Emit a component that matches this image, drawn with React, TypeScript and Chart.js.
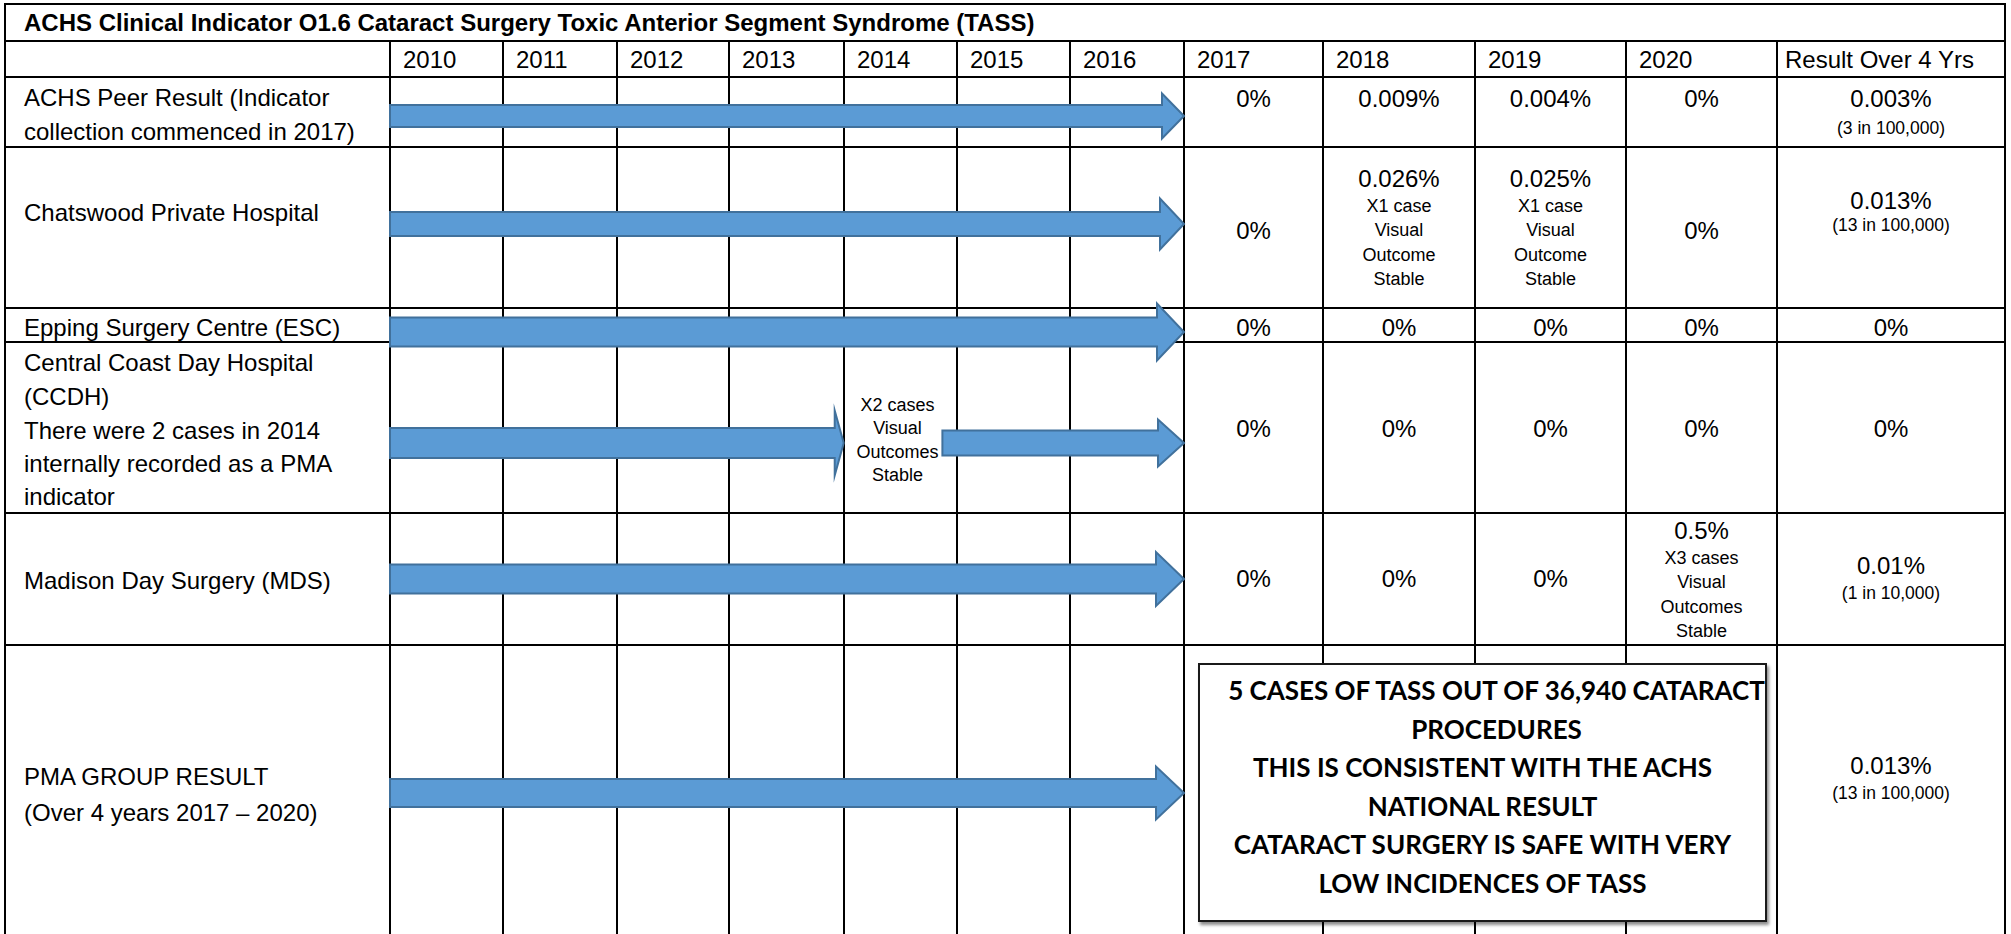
import React, { useEffect, useRef } from 'react';
import { Chart, registerables } from 'chart.js';

Chart.register(...registerables);

// ---------------- DATA ----------------
const title = 'ACHS Clinical Indicator O1.6 Cataract Surgery Toxic Anterior Segment Syndrome (TASS)';
const years = ['2010', '2011', '2012', '2013', '2014', '2015', '2016', '2017', '2018', '2019', '2020'];
const resultHeader = 'Result Over 4 Yrs';

const facilities: string[][] = [
  ['ACHS Peer Result (Indicator', 'collection commenced in 2017)'],
  ['Chatswood Private Hospital'],
  ['Epping Surgery Centre (ESC)'],
  ['Central Coast Day Hospital', '(CCDH)', 'There were 2 cases in 2014', 'internally recorded as a PMA', 'indicator'],
  ['Madison Day Surgery (MDS)'],
  ['PMA GROUP RESULT', '(Over 4 years 2017 \u2013 2020)'],
];

const rate2017 = ['0%', '0%', '0%', '0%', '0%', ''];
const rate2018 = ['0.009%', '0.026%', '0%', '0%', '0%', ''];
const rate2019 = ['0.004%', '0.025%', '0%', '0%', '0%', ''];
const rate2020 = ['0%', '0%', '0%', '0%', '0.5%', ''];

const notes2018: string[][] = [[], ['X1 case', 'Visual', 'Outcome', 'Stable'], [], [], [], []];
const notes2019: string[][] = [[], ['X1 case', 'Visual', 'Outcome', 'Stable'], [], [], [], []];
const notes2020: string[][] = [[], [], [], [], ['X3 cases', 'Visual', 'Outcomes', 'Stable'], []];
const ccdh2014Note = ['X2 cases', 'Visual', 'Outcomes', 'Stable'];

const result4Yrs = ['0.003%', '0.013%', '0%', '0%', '0.01%', '0.013%'];
const resultRatio = ['(3 in 100,000)', '(13 in 100,000)', '', '', '(1 in 10,000)', '(13 in 100,000)'];

// arrows: [start year, end year] per facility row
const arrowSpans: number[][][] = [
  [[2010, 2017]],
  [[2010, 2017]],
  [[2010, 2017]],
  [[2010, 2014], [2014.87, 2017]],
  [[2010, 2017]],
  [[2010, 2017]],
];

const summaryLines = [
  '5 CASES OF TASS OUT OF 36,940 CATARACT',
  'PROCEDURES',
  'THIS IS CONSISTENT WITH THE ACHS',
  'NATIONAL RESULT',
  'CATARACT SURGERY IS SAFE WITH VERY',
  'LOW INCIDENCES OF TASS',
];

// ---------------- LAYOUT ----------------
const COLX = [5, 390, 503, 617, 729, 844, 957, 1070, 1184, 1323, 1475, 1626, 1777, 2005];
const ROWY = [4, 41, 77, 147, 308, 342, 513, 645, 940];
const FONT = '"Liberation Sans", Arial, sans-serif';
const FS = 24;
const SMALL = 18;

// per-row text y-centres
const labelY = [[97, 131], [212], [327], [362, 396, 430, 463, 496], [580], [776, 812]];
const valueY = [98, 230, 327, 428, 578, 0];
const noteFirstY = [0, 178, 0, 0, 530, 0];
const resultY = [[98, 128], [200, 225], [327], [428], [565, 593], [765, 793]];

// arrow geometry per row (centre y and per-arrow shape)
const arrowCenter = [116, 224, 332, 443, 579, 793];
const arrowStyle = [
  [{ shaft: 22, head: 45, headLen: 22 }],
  [{ shaft: 24, head: 51, headLen: 24 }],
  [{ shaft: 29, head: 57, headLen: 27 }],
  [{ shaft: 30, head: 65, headLen: 9 }, { shaft: 25, head: 47, headLen: 26 }],
  [{ shaft: 29, head: 54, headLen: 28 }],
  [{ shaft: 28, head: 53, headLen: 28 }],
];

const PAD = 10;
const CW = COLX[8] - COLX[1] + PAD * 2;
const CH = 90;

function ArrowRow({ row }: { row: number }) {
  const ref = useRef<HTMLCanvasElement>(null);
  useEffect(() => {
    const styles = arrowStyle[row];
    const arrowPlugin = {
      id: 'arrowShapes',
      afterDatasetsDraw(chart: any) {
        const ctx = chart.ctx as CanvasRenderingContext2D;
        chart.data.datasets.forEach((_ds: any, i: number) => {
          const meta = chart.getDatasetMeta(i);
          const el = meta.data[0];
          if (!el) return;
          const p = el.getProps(['x', 'y', 'base'], true);
          const st = styles[i];
          const x0 = Math.min(p.x, p.base);
          const x1 = Math.max(p.x, p.base);
          const xh = x1 - st.headLen;
          const cy = p.y;
          ctx.save();
          ctx.beginPath();
          ctx.moveTo(x0, cy - st.shaft / 2);
          ctx.lineTo(xh, cy - st.shaft / 2);
          ctx.lineTo(xh, cy - st.head / 2);
          ctx.lineTo(x1, cy);
          ctx.lineTo(xh, cy + st.head / 2);
          ctx.lineTo(xh, cy + st.shaft / 2);
          ctx.lineTo(x0, cy + st.shaft / 2);
          ctx.closePath();
          ctx.fillStyle = '#5b9bd5';
          ctx.fill();
          ctx.lineWidth = 2;
          ctx.lineJoin = 'miter';
          ctx.strokeStyle = '#41719c';
          ctx.stroke();
          ctx.restore();
        });
      },
    };
    const chart = new Chart(ref.current as HTMLCanvasElement, {
      type: 'bar',
      data: {
        labels: [facilities[row].join(' ')],
        datasets: arrowSpans[row].map((s) => ({
          data: [s as any],
          backgroundColor: 'rgba(0,0,0,0)',
          borderWidth: 0,
          grouped: false,
          barPercentage: 1,
          categoryPercentage: 1,
        })),
      },
      options: {
        indexAxis: 'y',
        responsive: false,
        maintainAspectRatio: false,
        animation: false,
        events: [],
        layout: { padding: { left: PAD, right: PAD, top: 0, bottom: 0 } },
        scales: {
          x: { type: 'linear', min: 2010, max: 2017, display: false },
          y: { type: 'category', display: false },
        },
        plugins: { legend: { display: false }, tooltip: { enabled: false } },
      } as any,
      plugins: [arrowPlugin],
    });
    return () => chart.destroy();
  }, [row]);
  return (
    <canvas
      ref={ref}
      width={CW}
      height={CH}
      style={{
        position: 'absolute',
        left: COLX[1] - PAD,
        top: arrowCenter[row] - CH / 2,
        width: CW,
        height: CH,
        zIndex: 2,
        pointerEvents: 'none',
      }}
    />
  );
}

function Txt({ x, w, y, text, size = FS, bold = false, align = 'center', family = FONT }: any) {
  const lh = Math.round(size * 1.3);
  return (
    <div
      style={{
        position: 'absolute',
        left: x,
        width: w,
        top: y - lh / 2,
        height: lh,
        lineHeight: lh + 'px',
        fontSize: size,
        fontWeight: bold ? 700 : 400,
        fontFamily: family,
        textAlign: align,
        whiteSpace: 'nowrap',
        color: '#000',
      }}
    >
      {text}
    </div>
  );
}

export default function App() {
  const lines: JSX.Element[] = [];
  ROWY.forEach((y, i) => {
    lines.push(
      <div key={'h' + i} style={{ position: 'absolute', left: COLX[0] - 1, top: y - 1, width: COLX[13] - COLX[0] + 2, height: 2, background: '#000' }} />
    );
  });
  COLX.forEach((x, i) => {
    const top = i === 0 || i === COLX.length - 1 ? ROWY[0] : ROWY[1];
    lines.push(
      <div key={'v' + i} style={{ position: 'absolute', left: x - 1, top: top - 1, width: 2, height: 940 - top, background: '#000' }} />
    );
  });

  const texts: JSX.Element[] = [];
  texts.push(<Txt key="title" x={24} w={1500} y={22} text={title} bold align="left" />);
  years.forEach((yr, i) => {
    texts.push(<Txt key={'yr' + i} x={COLX[i + 1] + 13} w={100} y={59} text={yr} align="left" />);
  });
  texts.push(<Txt key="rh" x={COLX[12] + 8} w={COLX[13] - COLX[12] - 8} y={59} text={resultHeader} align="left" />);

  const rateCols = [rate2017, rate2018, rate2019, rate2020];
  const noteCols = [null, notes2018, notes2019, notes2020];
  facilities.forEach((lab, r) => {
    lab.forEach((t, k) => {
      texts.push(<Txt key={`l${r}_${k}`} x={24} w={364} y={labelY[r][k]} text={t} align="left" />);
    });
    rateCols.forEach((col, c) => {
      const v = col[r];
      if (!v) return;
      const x = COLX[8 + c];
      const w = COLX[9 + c] - x;
      const notes = noteCols[c] ? (noteCols[c] as string[][])[r] : [];
      if (notes.length) {
        const y0 = noteFirstY[r];
        texts.push(<Txt key={`v${r}_${c}`} x={x} w={w} y={y0} text={v} />);
        notes.forEach((n, k) => {
          texts.push(<Txt key={`n${r}_${c}_${k}`} x={x} w={w} y={y0 + 28.5 + k * 24.3} text={n} size={SMALL} />);
        });
      } else {
        texts.push(<Txt key={`v${r}_${c}`} x={x} w={w} y={valueY[r]} text={v} />);
      }
    });
    const rx = COLX[12];
    const rw = COLX[13] - rx;
    texts.push(<Txt key={`r${r}`} x={rx} w={rw} y={resultY[r][0]} text={result4Yrs[r]} />);
    if (resultRatio[r]) {
      texts.push(<Txt key={`rr${r}`} x={rx} w={rw} y={resultY[r][1]} text={resultRatio[r]} size={17.5} />);
    }
  });
  ccdh2014Note.forEach((n, k) => {
    texts.push(<Txt key={`cc${k}`} x={COLX[5] - 3} w={COLX[6] - COLX[5]} y={405 + k * 23.6} text={n} size={SMALL} />);
  });

  return (
    <div
      style={{
        position: 'fixed',
        left: 0,
        top: 0,
        width: 2011,
        height: 934,
        overflow: 'hidden',
        background: '#fff',
        fontFamily: FONT,
      }}
    >
      {lines}
      {texts}
      {arrowSpans.map((_s, r) => (
        <ArrowRow key={r} row={r} />
      ))}
      <div
        style={{
          position: 'absolute',
          left: 1198,
          top: 663,
          width: 569,
          height: 259,
          boxSizing: 'border-box',
          border: '2px solid #1a1a1a',
          background: '#fff',
          boxShadow: '2px 3px 3px rgba(0,0,0,0.45)',
          zIndex: 3,
          paddingTop: 6,
          fontFamily: 'Lato, "Open Sans", sans-serif',
          fontWeight: 700,
          fontSize: 26,
          lineHeight: '38.6px',
          textAlign: 'center',
          color: '#000',
        }}
      >
        {summaryLines.map((s, i) => (
          <div key={i} style={{ whiteSpace: 'nowrap', paddingLeft: i < 2 ? 28 : 0 }}>
            {s}
          </div>
        ))}
      </div>
    </div>
  );
}
